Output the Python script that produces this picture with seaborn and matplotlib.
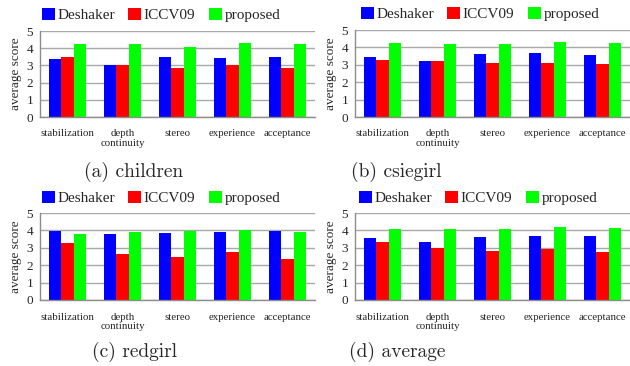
import matplotlib
matplotlib.use("Agg")
import matplotlib.pyplot as plt
import seaborn as sns
import pandas as pd
from matplotlib.patches import Patch
from matplotlib.ticker import FixedLocator

categories = ["stabilization", "depth\ncontinuity", "stereo", "experience", "acceptance"]
methods = ["Deshaker", "ICCV09", "proposed"]
colors = {"Deshaker": "#0000FF", "ICCV09": "#FF0000", "proposed": "#00FF00"}

children_deshaker = [3.35, 3.00, 3.48, 3.44, 3.50]
children_iccv09 = [3.46, 3.05, 2.85, 3.02, 2.84]
children_proposed = [4.23, 4.25, 4.08, 4.31, 4.24]

csiegirl_deshaker = [3.43, 3.24, 3.60, 3.66, 3.54]
csiegirl_iccv09 = [3.28, 3.20, 3.13, 3.09, 3.03]
csiegirl_proposed = [4.24, 4.17, 4.19, 4.32, 4.28]

redgirl_deshaker = [3.98, 3.81, 3.85, 3.93, 3.97]
redgirl_iccv09 = [3.27, 2.67, 2.46, 2.77, 2.33]
redgirl_proposed = [3.81, 3.88, 3.96, 4.03, 3.91]

average_deshaker = [3.58, 3.35, 3.63, 3.68, 3.68]
average_iccv09 = [3.35, 3.00, 2.81, 2.95, 2.75]
average_proposed = [4.10, 4.10, 4.08, 4.22, 4.15]

captions = ["(a) children", "(b) csiegirl", "(c) redgirl", "(d) average"]
panels = [
    (children_deshaker, children_iccv09, children_proposed),
    (csiegirl_deshaker, csiegirl_iccv09, csiegirl_proposed),
    (redgirl_deshaker, redgirl_iccv09, redgirl_proposed),
    (average_deshaker, average_iccv09, average_proposed),
]

W, H = 630, 366
fig = plt.figure(figsize=(W / 100, H / 100), dpi=100)
sns.set_style("white")
serif = "Liberation Serif"

# (left px, top px, bottom px, legend center x px, legend y px, caption x px, caption y px)
layout = [
    (40, 31, 117, 161, 15, 134, 172),
    (355, 30, 117, 480, 14, 396, 172),
    (40, 213, 300, 161, 198, 134, 352),
    (355, 213, 300, 478, 198, 397, 352),
]
axw = 275

for (vals, cap, lay) in zip(panels, captions, layout):
    left, top, bot, lx, ly, cx, cy = lay
    ax = fig.add_axes([left / W, 1 - bot / H, axw / W, (bot - top) / H])
    rows = []
    for m, v in zip(methods, vals):
        for c, val in zip(categories, v):
            rows.append({"category": c, "method": m, "score": val})
    df = pd.DataFrame(rows)
    sns.barplot(data=df, x="category", y="score", hue="method", order=categories,
                hue_order=methods, palette=colors, width=0.655, ax=ax,
                legend=False, linewidth=0, saturation=1)
    ax.set_xlim(-0.5, 4.5)
    ax.set_ylim(0, 5)
    ax.set_yticks([0, 1, 2, 3, 4, 5])
    ax.yaxis.grid(True, color="#a8a8a8", linewidth=1)
    ax.set_axisbelow(True)
    for s in ["top", "right"]:
        ax.spines[s].set_visible(False)
    for s in ["left", "bottom"]:
        ax.spines[s].set_color("#8c8c8c")
        ax.spines[s].set_linewidth(1)
    ax.xaxis.set_minor_locator(FixedLocator([-0.5, 0.5, 1.5, 2.5, 3.5, 4.5]))
    ax.tick_params(axis="x", which="major", length=0, pad=9)
    ax.tick_params(axis="x", which="minor", length=4, color="#8c8c8c", direction="out")
    ax.tick_params(axis="y", length=3, color="#8c8c8c", direction="out", pad=2)
    ax.set_xticks(range(len(categories)))
    ax.set_xticklabels(categories, fontfamily=serif, fontsize=7.8, linespacing=1.05)
    for t in ax.get_yticklabels():
        t.set_fontfamily(serif)
        t.set_fontsize(9.5)
    ax.set_xlabel("")
    ax.set_ylabel("average score", fontfamily=serif, fontsize=9.5, labelpad=3)
    handles = [Patch(facecolor=colors[m], edgecolor="none") for m in methods]
    ax.legend(handles, methods, loc="center", bbox_to_anchor=(lx / W, 1 - ly / H),
              bbox_transform=fig.transFigure, ncol=3, frameon=False,
              handlelength=0.85, handleheight=0.85, handletextpad=0.15,
              columnspacing=0.9, borderpad=0,
              prop={"family": serif, "size": 11})
    fig.text(cx / W, 1 - cy / H, cap, ha="center", va="center",
             fontfamily="cmr10", fontsize=14)

fig.savefig("out.png", dpi=100)
